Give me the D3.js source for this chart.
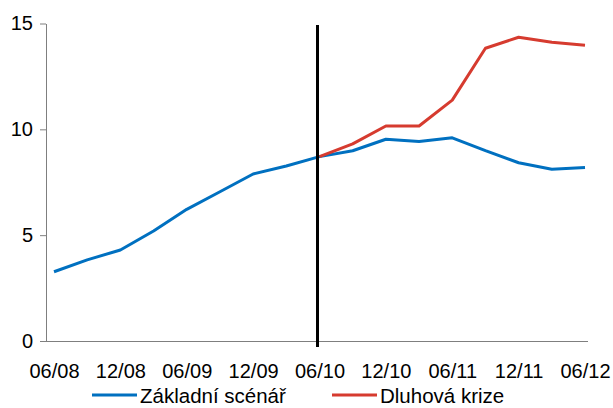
<!DOCTYPE html>
<html>
<head>
<meta charset="utf-8">
<script src="https://cdn.jsdelivr.net/npm/d3@7"></script>
<style>
  html, body { margin: 0; padding: 0; background: #fff; }
  svg { display: block; font-family: "Liberation Sans", Arial, sans-serif; }
</style>
</head>
<body>
<svg id="chart" width="613" height="408"></svg>
<script>
// Quarterly periods (MM/YY)
const periods = ["06/08","09/08","12/08","03/09","06/09","09/09","12/09","03/10",
                 "06/10","09/10","12/10","03/11","06/11","09/11","12/11","03/12","06/12"];
const tickLabels = ["06/08","12/08","06/09","12/09","06/10","12/10","06/11","12/11","06/12"];
const yTicks = [0, 5, 10, 15];

// Baseline scenario over the whole period
const zakladni = [3.27, 3.83, 4.30, 5.20, 6.22, 7.05, 7.89, 8.27,
                  8.71, 8.99, 9.53, 9.43, 9.60, 8.99, 8.42, 8.11, 8.20];
// Debt-crisis scenario, starting at the forecast split (06/10)
const dluhovaPeriods = ["06/10","09/10","12/10","03/11","06/11","09/11","12/11","03/12","06/12"];
const dluhova = [8.71, 9.31, 10.16, 10.16, 11.38, 13.83, 14.35, 14.11, 13.97];
const splitPeriod = "06/10";

const seriesNames = ["Základní scénář", "Dluhová krize"];
const colors = ["#0070C0", "#D63B2F"];

const svg = d3.select("#chart");

const x = d3.scalePoint().domain(periods).range([54, 585]);
const y = d3.scaleLinear().domain([0, 15]).range([341, 23.5]);

// Y axis
const yAxis = svg.append("g")
  .attr("transform", "translate(46,0)")
  .call(d3.axisLeft(y).tickValues(yTicks).tickSize(6).tickPadding(7).tickSizeOuter(0));
yAxis.select(".domain").attr("stroke", "#7f7f7f");
yAxis.selectAll(".tick line").attr("stroke", "#7f7f7f");
yAxis.selectAll("text").attr("font-size", 20).attr("fill", "#000")
  .attr("font-family", "Liberation Sans, Arial, sans-serif");

// X axis: plain line, labels every second quarter
const xAxis = svg.append("g")
  .attr("transform", "translate(0,341)")
  .call(d3.axisBottom(x).tickValues(tickLabels).tickSize(0).tickPadding(23));
xAxis.select(".domain").attr("d", "M46,0.5H588").attr("stroke", "#7f7f7f");
xAxis.selectAll("text").attr("font-size", 20).attr("fill", "#000")
  .attr("font-family", "Liberation Sans, Arial, sans-serif");

const line = d3.line().x(d => x(d[0])).y(d => y(d[1]));

svg.append("path")
  .datum(periods.map((p, i) => [p, zakladni[i]]))
  .attr("d", line)
  .attr("fill", "none")
  .attr("stroke", colors[0])
  .attr("stroke-width", 3)
  .attr("stroke-linejoin", "round");

svg.append("path")
  .datum(dluhovaPeriods.map((p, i) => [p, dluhova[i]]))
  .attr("d", line)
  .attr("fill", "none")
  .attr("stroke", colors[1])
  .attr("stroke-width", 3)
  .attr("stroke-linejoin", "round");

// Forecast split marker
svg.append("line")
  .attr("x1", x(splitPeriod) - 2).attr("x2", x(splitPeriod) - 2)
  .attr("y1", 25).attr("y2", 347)
  .attr("stroke", "#000")
  .attr("stroke-width", 3);

// Legend
const legendItems = [
  { name: seriesNames[0], color: colors[0], x0: 92 },
  { name: seriesNames[1], color: colors[1], x0: 332 }
];
const lg = svg.append("g");
legendItems.forEach(it => {
  lg.append("line")
    .attr("x1", it.x0).attr("x2", it.x0 + 45)
    .attr("y1", 395).attr("y2", 395)
    .attr("stroke", it.color).attr("stroke-width", 3);
  lg.append("text")
    .attr("x", it.x0 + 48).attr("y", 403)
    .attr("font-size", 20.5)
    .attr("fill", "#000")
    .text(it.name);
});
</script>
</body>
</html>
